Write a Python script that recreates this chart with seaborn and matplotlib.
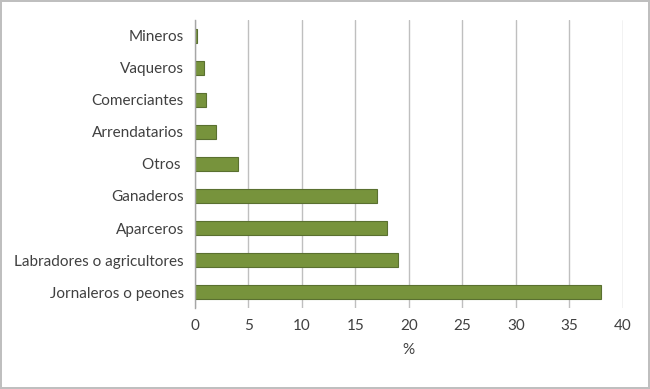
import pandas as pd
import matplotlib.pyplot as plt
import seaborn as sns

# datos
categorias = ['Mineros', 'Vaqueros', 'Comerciantes', 'Arrendatarios', 'Otros ',
              'Ganaderos', 'Aparceros', 'Labradores o agricultores', 'Jornaleros o peones']
porcentajes = [0.2, 0.8, 1.0, 2.0, 4.0, 17.0, 18.0, 19.0, 38.0]
ticks_x = [0, 5, 10, 15, 20, 25, 30, 35, 40]

df = pd.DataFrame({'Ocupacion': categorias, 'Porcentaje': porcentajes})

sns.set_style('white')
plt.rcParams['font.family'] = ['Lato', 'DejaVu Sans']

fig = plt.figure(figsize=(6.5, 3.89), dpi=100)
fig.patch.set_edgecolor('#BFBFBF')
fig.patch.set_linewidth(1.5)
ax = fig.add_axes([0.3, 0.208, 0.658, 0.741])

sns.barplot(ax=ax, data=df, x='Porcentaje', y='Ocupacion', color='#77933C',
            width=0.42, edgecolor='#5A7030', linewidth=0.8, saturation=1)

ax.set_xlim(0, 40)
ax.set_xticks(ticks_x)
ax.grid(axis='x', color='#BFBFBF', linewidth=1)
ax.set_axisbelow(True)
for s in ['top', 'right', 'bottom']:
    ax.spines[s].set_visible(False)
ax.spines['left'].set_color('#A6A6A6')
ax.spines['left'].set_linewidth(1)
ax.tick_params(axis='both', length=0, labelsize=11, colors='#404040', pad=8)
ax.set_ylabel('')
ax.set_xlabel('%', fontsize=11, color='#404040', labelpad=7)

plt.savefig('out.png', dpi=100)
